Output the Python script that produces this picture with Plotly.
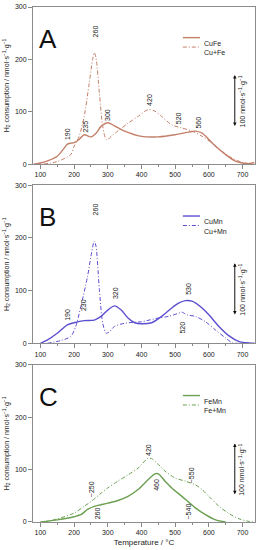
import plotly.graph_objects as go
from plotly.subplots import make_subplots

# ---------------- data ----------------
CuFe_T = [80, 100, 125, 150, 170, 180, 190, 200, 215, 230, 250, 265, 280, 300, 320, 350, 400, 450, 500, 540, 560, 580, 600, 620, 650, 680, 700, 720, 735]
CuFe_v = [0, 2, 7, 15, 30, 38, 40, 41, 47, 56, 52, 59, 72, 79, 73, 63, 53, 52, 56, 61, 63, 59, 47, 34, 18, 5, 2, 1, 3]

CuFeMix_T = [110, 150, 190, 200, 215, 230, 245, 255, 260, 265, 275, 285, 295, 300, 310, 330, 360, 390, 420, 440, 460, 490, 520, 550, 580, 610, 640, 670, 700, 735]
CuFeMix_v = [0, 5, 18, 34, 53, 91, 155, 200, 213, 203, 136, 72, 47, 47, 53, 63, 78, 91, 104, 101, 91, 75, 69, 63, 53, 40, 24, 11, 3, 0]

CuMn_T = [100, 120, 150, 180, 200, 230, 260, 280, 300, 320, 340, 360, 380, 400, 430, 460, 490, 510, 530, 550, 580, 600, 630, 660, 690, 710, 735]
CuMn_v = [0, 6, 19, 35, 39, 43, 44, 51, 63, 71, 63, 48, 39, 37, 39, 51, 67, 76, 81, 80, 67, 54, 32, 14, 3, 1, 0]

CuMnMix_T = [120, 160, 190, 205, 220, 240, 250, 260, 265, 275, 285, 295, 305, 320, 350, 400, 450, 480, 510, 520, 535, 560, 590, 620, 650, 670, 700]
CuMnMix_v = [0, 5, 13, 32, 70, 127, 165, 194, 184, 102, 38, 19, 22, 32, 38, 41, 48, 51, 57, 59, 54, 51, 41, 25, 10, 1, 0]

FeMn_T = [100, 150, 200, 220, 240, 260, 280, 300, 330, 360, 390, 420, 440, 450, 470, 490, 520, 540, 560, 590, 620, 650]
FeMn_v = [0, 4, 10, 14, 24, 30, 33, 36, 41, 49, 62, 81, 92, 92, 78, 65, 49, 38, 27, 14, 4, 0]

FeMnMix_T = [110, 150, 200, 230, 250, 280, 300, 330, 360, 390, 420, 430, 450, 470, 500, 530, 560, 580, 600, 630, 660, 690, 720, 735]
FeMnMix_v = [0, 6, 17, 30, 39, 55, 65, 78, 90, 103, 122, 121, 110, 97, 84, 78, 71, 62, 49, 30, 16, 6, 1, 0]

# peak labels: text, temperature, y position
A_labels = ["190", "235", "260", "300", "420", "520", "560"]
A_lab_T = [180, 233, 263, 301, 423, 509, 569]
A_lab_y = [58, 72, 254, 94, 123, 88, 80]

B_labels = ["190", "230", "260", "320", "530", "520"]
B_lab_T = [182, 230, 262, 321, 539, 519]
B_lab_y = [54, 73, 254, 95, 104, 29]

C_labels = ["~250", "260", "420", "460", "~550", "~540"]
C_lab_T = [252, 270, 423, 446, 551, 541]
C_lab_y = [62, 16, 138, 71, 90, 20]

panel_letters = ["A", "B", "C"]
legend_names = [["CuFe", "Cu+Fe"], ["CuMn", "Cu+Mn"], ["FeMn", "Fe+Mn"]]
colors = ["#c47f69", "#5b4fd0", "#6aa050"]
scale_bar = [(70, 170), (52, 152), (50, 150)]

x_ticks = [100, 200, 300, 400, 500, 600, 700]
y_ticks = [0, 100, 200, 300]

# ---------------- figure ----------------
FONT = "Arial, Liberation Sans, sans-serif"
DASHDOT = "4px,2px,1px,2px"
fig = make_subplots(rows=3, cols=1)

series = [
    (CuFe_T, CuFe_v, CuFeMix_T, CuFeMix_v, A_labels, A_lab_T, A_lab_y),
    (CuMn_T, CuMn_v, CuMnMix_T, CuMnMix_v, B_labels, B_lab_T, B_lab_y),
    (FeMn_T, FeMn_v, FeMnMix_T, FeMnMix_v, C_labels, C_lab_T, C_lab_y),
]

domains = [[0.695, 1.0], [0.347, 0.654], [0.0, 0.305]]

for i, (t1, v1, t2, v2, labs, labT, labY) in enumerate(series):
    r = i + 1
    col = colors[i]
    fig.add_trace(go.Scatter(x=t1, y=v1, mode="lines", name=legend_names[i][0],
                             line=dict(color=col, width=1.4, shape="spline", smoothing=0.8),
                             showlegend=False), row=r, col=1)
    fig.add_trace(go.Scatter(x=t2, y=v2, mode="lines", name=legend_names[i][1],
                             line=dict(color=col, width=1.0, dash=DASHDOT, shape="spline", smoothing=0.8),
                             showlegend=False), row=r, col=1)
    xr = "x" if r == 1 else f"x{r}"
    yr = "y" if r == 1 else f"y{r}"
    # peak labels
    for txt, tx, ty in zip(labs, labT, labY):
        fig.add_annotation(x=tx, y=ty, xref=xr, yref=yr, text=txt, showarrow=False,
                           textangle=-90, font=dict(family=FONT, size=7, color="#222"))
    # panel letter
    fig.add_annotation(x=0.02, y=0.905, xref=f"{xr} domain", yref=f"{yr} domain",
                       text=panel_letters[i], showarrow=False, xanchor="left",
                       font=dict(family=FONT, size=26, color="#111"))
    # legend (manual)
    for k, (ly, dash, w) in enumerate([(0.805, "solid", 1.4), (0.745, DASHDOT, 1.0)]):
        fig.add_shape(type="line", xref=f"{xr} domain", yref=f"{yr} domain",
                      x0=0.675, x1=0.752, y0=ly, y1=ly, line=dict(color=col, width=w, dash=dash))
        fig.add_annotation(x=0.76, y=ly, xref=f"{xr} domain", yref=f"{yr} domain",
                           text=legend_names[i][k], showarrow=False, xanchor="left",
                           font=dict(family=FONT, size=7, color="#222"))
    # scale bar
    y0, y1 = scale_bar[i]
    fig.add_annotation(x=677, y=y1, ax=677, ay=y0, xref=xr, yref=yr, axref=xr, ayref=yr,
                       text="", showarrow=True, arrowhead=2, startarrowhead=2,
                       arrowside="end+start", arrowsize=0.7, arrowwidth=1, arrowcolor="#111")
    fig.add_annotation(x=699, y=(y0 + y1) / 2, xref=xr, yref=yr,
                       text="100 nmol·s<sup>−1</sup>·g<sup>−1</sup>", showarrow=False, textangle=-90,
                       font=dict(family=FONT, size=7, color="#222"))

    fig.update_xaxes(row=r, col=1, range=[78, 737], tickvals=x_ticks, ticks="outside", ticklen=4,
                     tickcolor="#888", showline=True, linecolor="#8c8c8c", linewidth=1, mirror=True,
                     showgrid=False, zeroline=False, tickfont=dict(family=FONT, size=7, color="#222"),
                     automargin=False,
                     minor=dict(dtick=50, ticks="outside", ticklen=2, tickcolor="#888"))
    fig.update_yaxes(row=r, col=1, range=[0, 300], tickvals=y_ticks, ticks="outside", ticklen=4,
                     tickcolor="#888", showline=True, linecolor="#8c8c8c", linewidth=1, mirror=True,
                     showgrid=False, zeroline=False, tickfont=dict(family=FONT, size=7, color="#222"),
                     domain=domains[i], automargin=False,
                     title=dict(text="H<sub>2</sub> consumption / nmol·s<sup>−1</sup>·g<sup>−1</sup>",
                                font=dict(family=FONT, size=7, color="#222"), standoff=4))

fig.update_xaxes(row=3, col=1, title=dict(text="Temperature / °C", font=dict(family=FONT, size=8, color="#222"),
                                          standoff=3))

fig.update_layout(width=258, height=550, margin=dict(l=33, r=3, t=7, b=28),
                  paper_bgcolor="white", plot_bgcolor="white", showlegend=False,
                  font=dict(family=FONT, size=7, color="#222"))

fig.write_html("out.html", config={"displayModeBar": False},
               post_script="document.body.style.margin='0';document.body.style.overflow='hidden';")
